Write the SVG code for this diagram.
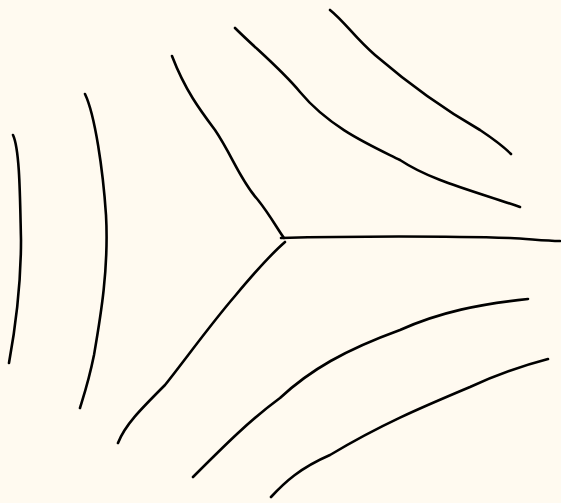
<svg xmlns="http://www.w3.org/2000/svg" width="561" height="503" viewBox="0 0 561 503">
<style>
.s{fill:none;stroke:#000;stroke-width:2.6;stroke-linecap:round;stroke-linejoin:round}
</style>
<rect x="0" y="0" width="561" height="503" fill="#fffaf0"/>
<g id="connectors">
<path class="s" d="M13,135 C20,150 20,200 21,240 C21,290 15,330 9,363"/>
<path class="s" d="M85,94 C95,115 103,170 106,215 C109,270 100,320 94,355 C89,380 84,395 80,408"/>
<path class="s" d="M172,56 C185,90 200,110 215,130 C232,155 240,180 258,200 C270,215 278,230 284,238"/>
<path class="s" d="M281,238 C350,236 450,236 510,238 C530,239 545,241 560,241"/>
<path class="s" d="M285,242 C270,255 255,272 235,296 C210,325 185,360 165,385 C140,410 125,425 118,443"/>
<path class="s" d="M235,28 C255,48 280,68 300,92 C330,128 370,145 400,160 C430,180 470,190 520,207"/>
<path class="s" d="M330,10 C345,22 355,38 375,55 C410,85 445,110 480,130 C495,140 505,148 511,154"/>
<path class="s" d="M193,477 C225,445 250,420 280,398 C310,370 345,350 400,330 C440,312 480,304 528,299"/>
<path class="s" d="M271,497 C285,482 300,468 330,455 C380,425 420,408 470,387 C500,373 525,365 548,359"/>
</g>
</svg>
